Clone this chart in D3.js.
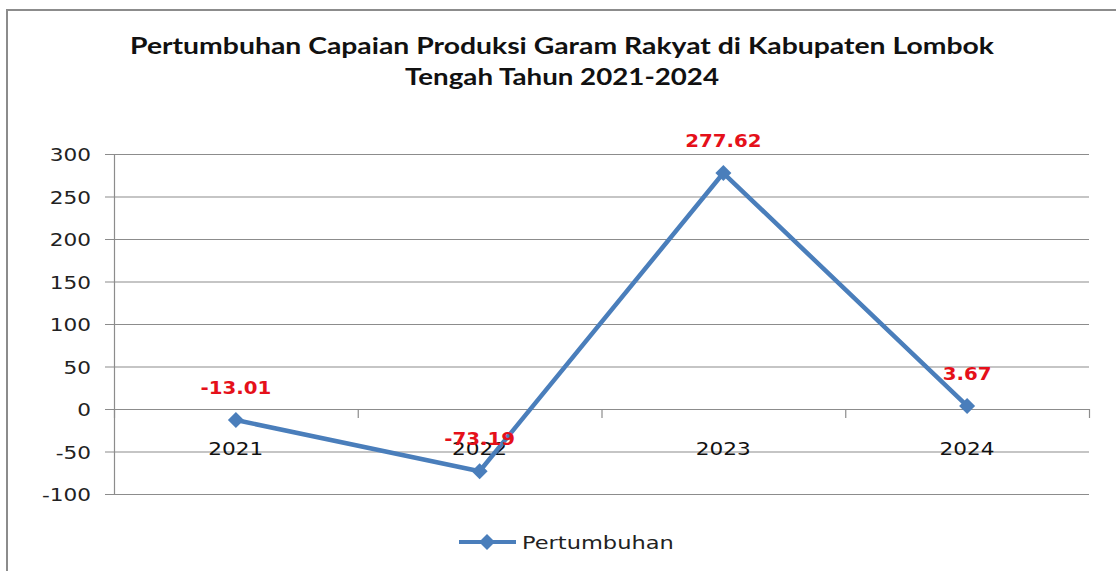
<!DOCTYPE html>
<html lang="id">
<head>
<meta charset="utf-8">
<title>Pertumbuhan Capaian Produksi Garam Rakyat</title>
<script src="https://d3js.org/d3.v7.min.js"></script>
<style>
  body { margin: 0; background: #fff; }
  svg { display: block; }
</style>
</head>
<body>
<svg width="1116" height="571"></svg>
<script>
// data
var years = ["2021", "2022", "2023", "2024"];
var growth = [-13.01, -73.19, 277.62, 3.67];
var yTicks = [-100, -50, 0, 50, 100, 150, 200, 250, 300];
var titleLines = ["Pertumbuhan Capaian Produksi Garam Rakyat di Kabupaten Lombok", "Tengah Tahun 2021-2024"];
var seriesName = "Pertumbuhan";

var svg = d3.select("svg"),
    width = +svg.attr("width"),
    height = +svg.attr("height");

var blue = "#4a7ebb",
    grid = "#8c8c8c";

// the source image is stretched sideways, so widen text a bit
function stretch(sel, k) {
  sel.each(function() {
    var w = this.getComputedTextLength();
    d3.select(this).attr("textLength", w * k).attr("lengthAdjust", "spacingAndGlyphs");
  });
}

// outer frame
svg.append("rect")
    .attr("x", 7).attr("y", 10)
    .attr("width", width + 20).attr("height", height + 20)
    .attr("fill", "none")
    .attr("stroke", "#8c8c8c")
    .attr("stroke-width", 2);

// title
svg.append("g").selectAll("text")
  .data(titleLines)
  .enter().append("text")
    .attr("x", 562)
    .attr("y", function(d, i) { return 54 + i * 31; })
    .attr("text-anchor", "middle")
    .attr("font-family", "Lato, 'Open Sans', sans-serif")
    .attr("font-weight", "bold")
    .attr("font-size", 22)
    .attr("fill", "#111")
    .attr("textLength", function(d, i) { return i === 0 ? 864 : 314; })
    .attr("lengthAdjust", "spacingAndGlyphs")
    .text(function(d) { return d; });

var x = d3.scaleBand()
    .domain(years)
    .range([114, 1089]);

var y = d3.scaleLinear()
    .domain([-100, 300])
    .range([494, 154]);

// gridlines
svg.append("g").selectAll("line")
  .data(yTicks)
  .enter().append("line")
    .attr("x1", 105).attr("x2", 1089)
    .attr("y1", function(d) { return y(d) + 0.5; })
    .attr("y2", function(d) { return y(d) + 0.5; })
    .attr("stroke", grid)
    .attr("stroke-width", 1.2);

// y axis line
svg.append("line")
    .attr("x1", 114.5).attr("x2", 114.5)
    .attr("y1", y(300)).attr("y2", y(-100))
    .attr("stroke", grid)
    .attr("stroke-width", 1.2);

// y tick labels
svg.append("g").selectAll("text")
  .data(yTicks)
  .enter().append("text")
    .attr("x", 91)
    .attr("y", function(d) { return y(d) + 7; })
    .attr("text-anchor", "end")
    .attr("font-family", "'DejaVu Sans', sans-serif")
    .attr("font-size", 18)
    .attr("fill", "#222")
    .text(function(d) { return d; })
    .call(stretch, 1.2);

// x ticks on the zero line, at band edges
var edges = years.map(function(d) { return x(d); }).concat([x.range()[1]]);
svg.append("g").selectAll("line")
  .data(edges)
  .enter().append("line")
    .attr("x1", function(d) { return d + 0.5; })
    .attr("x2", function(d) { return d + 0.5; })
    .attr("y1", y(0)).attr("y2", y(0) + 9)
    .attr("stroke", grid)
    .attr("stroke-width", 1.2);

// category labels
svg.append("g").selectAll("text")
  .data(years)
  .enter().append("text")
    .attr("x", function(d) { return x(d) + x.bandwidth() / 2; })
    .attr("y", y(0) + 46)
    .attr("text-anchor", "middle")
    .attr("font-family", "'DejaVu Sans', sans-serif")
    .attr("font-size", 18)
    .attr("fill", "#111")
    .text(function(d) { return d; })
    .call(stretch, 1.2);

var pts = years.map(function(d, i) { return [x(d) + x.bandwidth() / 2, y(growth[i])]; });

// line
svg.append("path")
    .datum(pts)
    .attr("fill", "none")
    .attr("stroke", blue)
    .attr("stroke-width", 4.5)
    .attr("stroke-linejoin", "round")
    .attr("d", d3.line());

var diamond = "M0,-8L8,0L0,8L-8,0Z";

svg.append("g").selectAll("path")
  .data(pts)
  .enter().append("path")
    .attr("transform", function(d) { return "translate(" + d[0] + "," + d[1] + ")"; })
    .attr("d", diamond)
    .attr("fill", blue);

// data labels (the -73.19 label sits on "2022" in the original too)
svg.append("g").selectAll("text")
  .data(pts)
  .enter().append("text")
    .attr("x", function(d) { return d[0]; })
    .attr("y", function(d) { return d[1] - 26; })
    .attr("text-anchor", "middle")
    .attr("font-family", "'DejaVu Sans', sans-serif")
    .attr("font-weight", "bold")
    .attr("font-size", 18)
    .attr("fill", "#e5101a")
    .text(function(d, i) { return growth[i].toFixed(2); })
    .call(stretch, 1.1);

// legend
var lg = svg.append("g").attr("transform", "translate(459,542)");
lg.append("line")
    .attr("x1", 0).attr("x2", 57)
    .attr("stroke", blue)
    .attr("stroke-width", 4);
lg.append("path")
    .attr("transform", "translate(28,0)")
    .attr("d", diamond)
    .attr("fill", blue);
lg.append("text")
    .attr("x", 63)
    .attr("y", 7)
    .attr("font-family", "'DejaVu Sans', sans-serif")
    .attr("font-size", 18)
    .attr("fill", "#222")
    .text(seriesName)
    .call(stretch, 1.25);
</script>
</body>
</html>
